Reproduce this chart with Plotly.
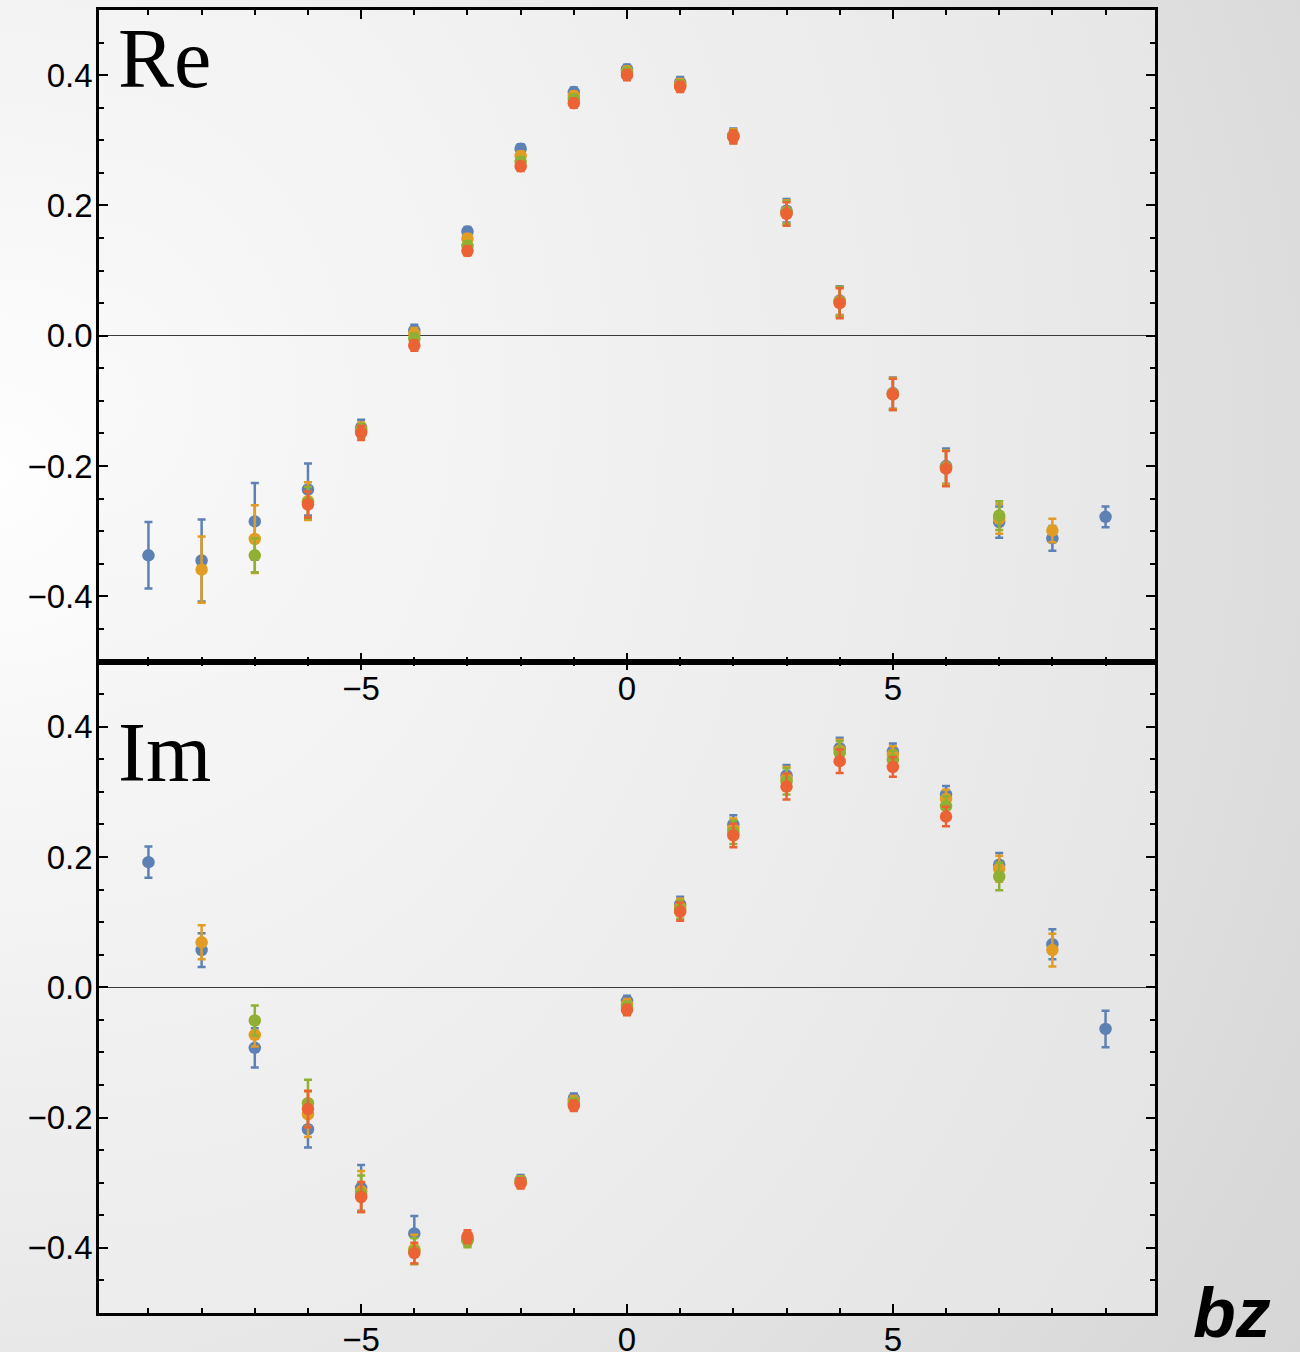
import base64
import plotly.graph_objects as go

# ---------------- data ----------------
x_blue = list(range(-9, 10))
x_orange = list(range(-8, 9))
x_green = list(range(-7, 8))
x_red = list(range(-6, 7))

re_blue = [-0.337, -0.345, -0.285, -0.236, -0.141, 0.008, 0.160, 0.287, 0.374, 0.409,
           0.389, 0.308, 0.192, 0.054, -0.088, -0.200, -0.286, -0.311, -0.278]
re_blue_err = [0.051, 0.063, 0.059, 0.040, 0.012, 0.009, 0.007, 0.007, 0.007, 0.007,
               0.008, 0.010, 0.018, 0.022, 0.024, 0.027, 0.024, 0.019, 0.016]
re_orange = [-0.359, -0.312, -0.254, -0.144, 0.003, 0.149, 0.276, 0.368, 0.406,
             0.386, 0.307, 0.190, 0.053, -0.089, -0.202, -0.281, -0.299]
re_orange_err = [0.051, 0.052, 0.029, 0.011, 0.009, 0.007, 0.007, 0.007, 0.007,
                 0.008, 0.010, 0.018, 0.022, 0.024, 0.026, 0.023, 0.018]
re_green = [-0.337, -0.256, -0.146, -0.005, 0.138, 0.267, 0.363, 0.404,
            0.384, 0.306, 0.189, 0.052, -0.090, -0.203, -0.276]
re_green_err = [0.026, 0.024, 0.011, 0.009, 0.007, 0.007, 0.007, 0.007,
                0.008, 0.010, 0.018, 0.023, 0.024, 0.027, 0.022]
re_red = [-0.259, -0.149, -0.015, 0.130, 0.260, 0.357, 0.400,
          0.382, 0.305, 0.187, 0.050, -0.090, -0.204]
re_red_err = [0.020, 0.011, 0.008, 0.007, 0.007, 0.007, 0.008,
              0.008, 0.010, 0.018, 0.023, 0.024, 0.027]

im_blue = [0.192, 0.057, -0.093, -0.218, -0.308, -0.378, -0.387, -0.296, -0.171, -0.021,
           0.127, 0.250, 0.325, 0.367, 0.362, 0.296, 0.188, 0.066, -0.064]
im_blue_err = [0.024, 0.026, 0.030, 0.028, 0.035, 0.027, 0.010, 0.008, 0.008, 0.008,
               0.012, 0.014, 0.016, 0.016, 0.012, 0.013, 0.018, 0.023, 0.028]
im_orange = [0.069, -0.073, -0.195, -0.313, -0.402, -0.386, -0.298, -0.175, -0.026,
             0.123, 0.243, 0.320, 0.363, 0.357, 0.289, 0.182, 0.057]
im_orange_err = [0.026, 0.018, 0.035, 0.031, 0.022, 0.010, 0.008, 0.008, 0.008,
                 0.013, 0.016, 0.018, 0.017, 0.013, 0.014, 0.020, 0.025]
im_green = [-0.051, -0.178, -0.317, -0.405, -0.389, -0.299, -0.178, -0.030,
            0.119, 0.238, 0.316, 0.360, 0.349, 0.278, 0.170]
im_green_err = [0.023, 0.036, 0.028, 0.020, 0.010, 0.008, 0.008, 0.008,
                0.014, 0.018, 0.020, 0.018, 0.014, 0.015, 0.021]
im_red = [-0.187, -0.322, -0.408, -0.383, -0.301, -0.182, -0.035,
          0.116, 0.233, 0.308, 0.347, 0.338, 0.262]
im_red_err = [0.028, 0.023, 0.016, 0.010, 0.008, 0.008, 0.008,
              0.014, 0.018, 0.020, 0.018, 0.015, 0.015]

y_tickvals = [-0.4, -0.2, 0.0, 0.2, 0.4]
y_ticktext = ["\u22120.4", "\u22120.2", "0.0", "0.2", "0.4"]
x_tickvals = [-5, 0, 5]
x_ticktext = ["\u22125", "0", "5"]

C_BLUE = "#5E81B5"
C_ORANGE = "#E19C24"
C_GREEN = "#8FB032"
C_RED = "#EB6235"

# ---------------- figure ----------------
fig = go.Figure()

series_re = [(x_blue, re_blue, re_blue_err, C_BLUE),
             (x_orange, re_orange, re_orange_err, C_ORANGE),
             (x_green, re_green, re_green_err, C_GREEN),
             (x_red, re_red, re_red_err, C_RED)]
series_im = [(x_blue, im_blue, im_blue_err, C_BLUE),
             (x_orange, im_orange, im_orange_err, C_ORANGE),
             (x_green, im_green, im_green_err, C_GREEN),
             (x_red, im_red, im_red_err, C_RED)]

for xs, ys, es, c in series_re:
    fig.add_trace(go.Scatter(
        x=xs, y=ys, mode="markers", xaxis="x2", yaxis="y2",
        marker=dict(size=12.5, color=c, line=dict(width=0)),
        error_y=dict(type="data", array=es, visible=True, color=c, thickness=2.5, width=4),
        showlegend=False))
for xs, ys, es, c in series_im:
    fig.add_trace(go.Scatter(
        x=xs, y=ys, mode="markers", xaxis="x", yaxis="y",
        marker=dict(size=12.5, color=c, line=dict(width=0)),
        error_y=dict(type="data", array=es, visible=True, color=c, thickness=2.5, width=4),
        showlegend=False))

tickfont = dict(family="Liberation Sans, Arial, sans-serif", size=33, color="black")

xaxis_common = dict(
    range=[-9.93, 9.93], showgrid=False, zeroline=False, automargin=False,
    showline=True, linecolor="black", linewidth=2.5, mirror="ticks",
    ticks="inside", ticklen=9, tickwidth=2, tickcolor="black",
    tickmode="array", tickvals=x_tickvals, ticktext=x_ticktext,
    minor=dict(tickmode="linear", tick0=0, dtick=1, ticks="inside", ticklen=5,
               tickwidth=1.5, tickcolor="black", showgrid=False),
    tickfont=tickfont, ticklabelstandoff=-4,
)
yaxis_common = dict(
    range=[-0.5, 0.5], showgrid=False, zeroline=True, zerolinecolor="#3a3a3a",
    zerolinewidth=1.2, automargin=False,
    showline=True, linecolor="black", linewidth=2.5, mirror="ticks",
    ticks="inside", ticklen=9, tickwidth=2, tickcolor="black",
    tickmode="array", tickvals=y_tickvals, ticktext=y_ticktext,
    minor=dict(tickmode="linear", tick0=0, dtick=0.05, ticks="inside", ticklen=5,
               tickwidth=1.5, tickcolor="black", showgrid=False),
    tickfont=tickfont, ticklabelstandoff=-3,
)

# background gradient (styling only)
svg = """<svg xmlns='http://www.w3.org/2000/svg' width='1300' height='1352' viewBox='0 0 1300 1352' preserveAspectRatio='none'>
<defs>
<radialGradient id='g1' cx='0' cy='0.35' r='1.25' gradientUnits='objectBoundingBox'>
<stop offset='0' stop-color='#fefefe'/><stop offset='1' stop-color='#d4d4d4'/></radialGradient>
<radialGradient id='g2' cx='0' cy='0.3' r='1.3' gradientUnits='objectBoundingBox'>
<stop offset='0' stop-color='#f9f9f9'/><stop offset='1' stop-color='#e2e2e2'/></radialGradient>
</defs>
<rect x='0' y='0' width='1300' height='1352' fill='url(#g1)'/>
<rect x='99' y='10' width='1056' height='1303' fill='url(#g2)'/>
</svg>"""
src = "data:image/svg+xml;base64," + base64.b64encode(svg.encode()).decode()

L, R, T, B = 99, 145, 10, 39
W, H = 1300, 1352
pw, ph = W - L - R, H - T - B

fig.update_layout(
    width=W, height=H,
    margin=dict(l=L, r=R, t=T, b=B, pad=0, autoexpand=False),
    paper_bgcolor="rgba(0,0,0,0)", plot_bgcolor="rgba(0,0,0,0)",
    xaxis=dict(anchor="y", domain=[0, 1], **xaxis_common),
    yaxis=dict(anchor="x", domain=[0, 0.5], **yaxis_common),
    xaxis2=dict(anchor="y2", domain=[0, 1], **xaxis_common),
    yaxis2=dict(anchor="x2", domain=[0.5, 1], **yaxis_common),
    images=[dict(source=src, xref="paper", yref="paper",
                 x=-L / pw, y=1 + T / ph, sizex=W / pw, sizey=H / ph,
                 xanchor="left", yanchor="top", sizing="stretch", layer="below")],
    annotations=[
        dict(text="Re", xref="x2 domain", yref="y2 domain", x=0.016, y=0.926,
             xanchor="left", yanchor="middle", showarrow=False,
             font=dict(family="Liberation Serif, Times New Roman, serif", size=84, color="black")),
        dict(text="Im", xref="x domain", yref="y domain", x=0.016, y=0.861,
             xanchor="left", yanchor="middle", showarrow=False,
             font=dict(family="Liberation Serif, Times New Roman, serif", size=84, color="black")),
        dict(text="<b><i>bz</i></b>", xref="paper", yref="paper", x=1.073, y=0.0,
             xanchor="center", yanchor="middle", showarrow=False,
             font=dict(family="Liberation Sans, Arial, sans-serif", size=70, color="black")),
    ],
)

fig.write_html("out.html")
